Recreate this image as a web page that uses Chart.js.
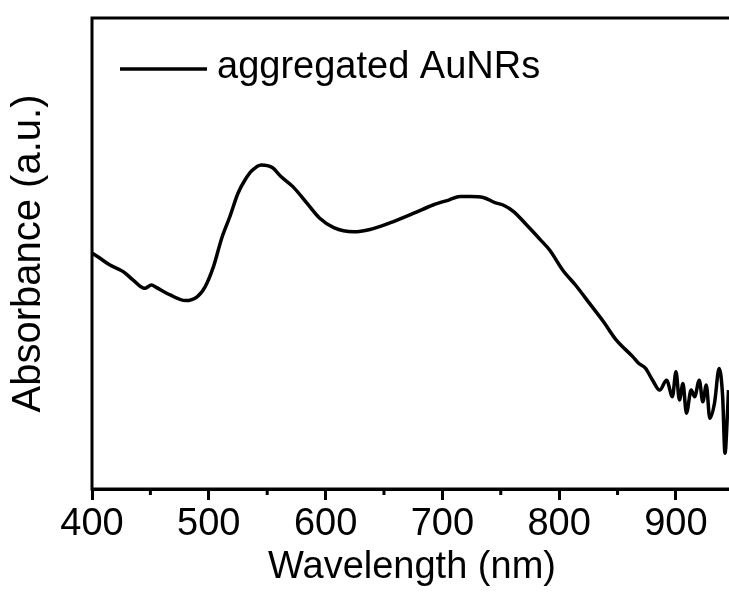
<!DOCTYPE html>
<html>
<head>
<meta charset="utf-8">
<script src="https://cdn.jsdelivr.net/npm/chart.js@4/dist/chart.umd.min.js"></script>
<style>
  html, body { margin: 0; padding: 0; background: #fff; overflow: hidden; }
  #wrap { width: 732px; height: 592px; }
</style>
</head>
<body>
<div id="wrap"><canvas id="c" width="732" height="592"></canvas></div>
<script>
// ---- data ----
const wavelengths = [400,405,415,427,435,445,451,455,467,480,490,497,504,511,518,525,531,537,545,554,562,572,584,595,607,624,638,655,675,692,706,715,724,735,745,752,761,772,784,792,803,815,826,838,849,863,868,874,880,886,892,897,900,903,906,909,913,916,920,923,926,929,933,937,940,942,944,945];
const absorbance = [0.501,0.493,0.476,0.461,0.444,0.426,0.433,0.428,0.412,0.400,0.408,0.430,0.472,0.532,0.578,0.628,0.656,0.676,0.688,0.683,0.663,0.642,0.607,0.575,0.555,0.546,0.551,0.565,0.585,0.603,0.614,0.621,0.621,0.619,0.608,0.603,0.589,0.561,0.529,0.507,0.465,0.430,0.394,0.355,0.316,0.281,0.267,0.256,0.231,0.210,0.231,0.196,0.249,0.189,0.224,0.161,0.210,0.196,0.231,0.185,0.221,0.150,0.182,0.256,0.196,0.076,0.154,0.210];
const seriesLabel = 'aggregated AuNRs';
const xTitle = 'Wavelength (nm)';
const yTitle = 'Absorbance (a.u.)';
const majorTickStep = 100;
const minorTickValues = [450,550,650,750,850];

const points = wavelengths.map((w, i) => ({x: w, y: absorbance[i]}));

const FONT = 'Liberation Sans, Arial, sans-serif';

const framePlugin = {
  id: 'frame',
  afterDatasetsDraw(chart) {
    const {ctx, chartArea: a, scales} = chart;
    ctx.save();
    ctx.strokeStyle = '#000';
    ctx.lineWidth = 3;
    ctx.strokeRect(a.left, a.top, a.right - a.left, a.bottom - a.top);
    // minor ticks
    minorTickValues.forEach(v => {
      const x = scales.x.getPixelForValue(v);
      ctx.beginPath();
      ctx.moveTo(x, a.bottom);
      ctx.lineTo(x, a.bottom + 6);
      ctx.stroke();
    });
    // legend
    const ds = chart.data.datasets[0];
    ctx.strokeStyle = ds.borderColor;
    ctx.lineWidth = ds.borderWidth;
    ctx.beginPath();
    ctx.moveTo(a.left + 28, a.top + 51);
    ctx.lineTo(a.left + 115, a.top + 51);
    ctx.stroke();
    ctx.fillStyle = '#000';
    ctx.font = '38px ' + FONT;
    ctx.textBaseline = 'middle';
    ctx.textAlign = 'left';
    ctx.fillText(ds.label, a.left + 125, a.top + 50);
    ctx.restore();
  }
};

new Chart(document.getElementById('c'), {
  type: 'line',
  data: {
    datasets: [{
      label: seriesLabel,
      data: points,
      borderColor: '#000',
      borderWidth: 3.5,
      pointRadius: 0,
      fill: false,
      cubicInterpolationMode: 'monotone'
    }]
  },
  options: {
    responsive: false,
    animation: false,
    devicePixelRatio: 1,
    layout: { padding: { top: 18, left: 0, right: 0, bottom: 0 } },
    plugins: { legend: { display: false }, tooltip: { enabled: false } },
    scales: {
      x: {
        type: 'linear',
        min: 400,
        max: 948,
        border: { display: true, color: '#000', width: 3 },
        grid: { display: true, drawOnChartArea: false, drawTicks: true, tickLength: 11, tickWidth: 3, tickColor: '#000' },
        ticks: {
          stepSize: majorTickStep,
          includeBounds: false,
          color: '#000',
          padding: 2,
          maxRotation: 0,
          autoSkip: false,
          font: { family: FONT, size: 38 }
        },
        title: {
          display: true,
          text: xTitle,
          color: '#000',
          font: { family: FONT, size: 38, lineHeight: 1.2 },
          padding: { top: 0, bottom: 2 }
        },
        afterFit(scale) { scale.height = 103; }
      },
      y: {
        min: 0,
        max: 1,
        border: { display: false },
        grid: { display: false },
        ticks: { display: false },
        title: {
          display: true,
          text: yTitle,
          color: '#000',
          font: { family: FONT, size: 40, lineHeight: 1.2 },
          padding: { top: 5, bottom: 0 }
        },
        afterFit(scale) { scale.width = 92; }
      }
    }
  },
  plugins: [framePlugin]
});
</script>
</body>
</html>
